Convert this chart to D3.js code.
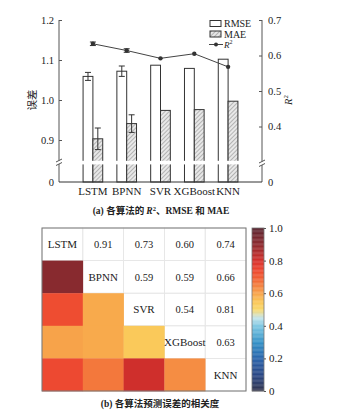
<!DOCTYPE html>
<html><head><meta charset="utf-8">
<script src="https://cdn.jsdelivr.net/npm/d3@7/dist/d3.min.js"></script>
<style>
html,body{margin:0;padding:0;background:#fff;}
text{font-family:"Liberation Serif","Noto Sans CJK SC",serif;fill:#222;}
.cjk{font-family:"Noto Sans CJK SC",sans-serif;}
</style></head>
<body>
<svg id="c" width="340" height="411"></svg>
<script>
// ---------- data ----------
const algorithms = ["LSTM", "BPNN", "SVR", "XGBoost", "KNN"];
const rmse = [1.059, 1.072, 1.087, 1.079, 1.102];
const rmseErr = [0.010, 0.013, 0, 0, 0];
const mae = [0.903, 0.941, 0.974, 0.976, 0.997];
const maeErr = [0.027, 0.022, 0, 0, 0];
const r2 = [0.633, 0.614, 0.592, 0.605, 0.568];
const r2Err = [0.005, 0.005, 0, 0, 0];
const leftTicks = [0, 0.9, 1.0, 1.1, 1.2];
const rightTicks = [0, 0.4, 0.5, 0.6, 0.7];
// correlation (upper triangle, row i < col j)
const corrPairs = [
  ["LSTM","BPNN",0.91],["LSTM","SVR",0.73],["LSTM","XGBoost",0.60],["LSTM","KNN",0.74],
  ["BPNN","SVR",0.59],["BPNN","XGBoost",0.59],["BPNN","KNN",0.66],
  ["SVR","XGBoost",0.54],["SVR","KNN",0.81],
  ["XGBoost","KNN",0.63]
];
const colorTicks = [0, 0.2, 0.4, 0.6, 0.8, 1.0];
const colorStops = [0,0.1,0.2,0.3,0.4,0.45,0.5,0.55,0.6,0.7,0.75,0.8,0.9,1.0];
const colorValues = ["#33344d","#2a4785","#2a63aa","#3592c7","#7dc7e2","#c4e4ea","#f8d86c","#fbc556","#f7a34a","#f05b33","#ec4430","#d6302c","#8d2a2f","#5c2631"];

const svg = d3.select("#c");
const FS = 10.5;

// ---------- top chart ----------
const xL = 59, xR = 262, yBase = 182;
const x0 = d3.scaleBand().domain(algorithms).range([76, 245]);
const x1 = d3.scaleBand().domain(["RMSE","MAE"]).range([0, x0.bandwidth()]).paddingOuter(0.72);
const yL = d3.scaleLinear().domain([0, 0.85, 1.2]).range([yBase, 160, 20]);
const yR = d3.scaleLinear().domain([0, 0.3, 0.7]).range([yBase, 162, 20]);

const defs = svg.append("defs");
const pat = defs.append("pattern").attr("id","hatch").attr("patternUnits","userSpaceOnUse")
  .attr("width",3).attr("height",3).attr("patternTransform","rotate(45)");
pat.append("rect").attr("width",3).attr("height",3).attr("fill","#e8e8e8");
pat.append("line").attr("x1",0).attr("y1",0).attr("x2",0).attr("y2",3).attr("stroke","#888").attr("stroke-width",1.1);

const g = svg.append("g");
// bars
algorithms.forEach((a,i)=>{
  const cx = x0(a);
  g.append("rect").attr("x",cx+x1("RMSE")).attr("y",yL(rmse[i]))
   .attr("width",x1.bandwidth()).attr("height",yBase-yL(rmse[i]))
   .attr("fill","#fff").attr("stroke","#333").attr("stroke-width",1);
  g.append("rect").attr("x",cx+x1("MAE")).attr("y",yL(mae[i]))
   .attr("width",x1.bandwidth()).attr("height",yBase-yL(mae[i]))
   .attr("fill","url(#hatch)").attr("stroke","#333").attr("stroke-width",1);
});
// break stripe
g.append("rect").attr("x",xL+1).attr("y",yL(0.85)+0.8).attr("width",xR-xL-2).attr("height",3.6).attr("fill","#fff");

// error bars
function errBar(x, yScale, v, e){
  if(!e) return;
  const y1 = yScale(v+e), y2 = yScale(v-e);
  g.append("line").attr("x1",x).attr("x2",x).attr("y1",y1).attr("y2",y2).attr("stroke","#333");
  [y1,y2].forEach(y=>g.append("line").attr("x1",x-3).attr("x2",x+3).attr("y1",y).attr("y2",y).attr("stroke","#333"));
}
algorithms.forEach((a,i)=>{
  const cx = x0(a);
  errBar(cx+x1("RMSE")+x1.bandwidth()/2, yL, rmse[i], rmseErr[i]);
  errBar(cx+x1("MAE")+x1.bandwidth()/2, yL, mae[i], maeErr[i]);
});
// R2 line
const cxR = a => x0(a)+x0.bandwidth()/2;
g.append("path").datum(r2).attr("fill","none").attr("stroke","#444").attr("stroke-width",1)
  .attr("d", d3.line().x((d,i)=>cxR(algorithms[i])).y(d=>yR(d)));
algorithms.forEach((a,i)=>errBar(cxR(a), yR, r2[i], r2Err[i]));
g.selectAll("circle.r2").data(r2).join("circle").attr("class","r2")
  .attr("cx",(d,i)=>cxR(algorithms[i])).attr("cy",d=>yR(d)).attr("r",2.2).attr("fill","#333");

// axes
const axL = svg.append("g").attr("transform",`translate(${xL},0)`)
  .call(d3.axisLeft(yL).tickValues(leftTicks).tickFormat(d=>d===0?"0":d3.format(".1f")(d)).tickSize(-3).tickPadding(5));
const axR = svg.append("g").attr("transform",`translate(${xR},0)`)
  .call(d3.axisRight(yR).tickValues(rightTicks).tickFormat(d=>d===0?"0":d3.format(".1f")(d)).tickSize(-3).tickPadding(6));
[axL,axR].forEach(ax=>{
  ax.select(".domain").remove();
  ax.selectAll("line").attr("stroke","#555");
  ax.selectAll("text").attr("font-size",FS).attr("font-family","Liberation Serif").attr("fill","#222");
  ax.selectAll(".tick").filter(d=>d===0).select("line").remove();
});
// axis lines with break
function vAxis(x, yTop, yb1, yb2){
  svg.append("line").attr("x1",x).attr("x2",x).attr("y1",yTop).attr("y2",yb1).attr("stroke","#555");
  svg.append("line").attr("x1",x).attr("x2",x).attr("y1",yb2).attr("y2",yBase).attr("stroke","#555");
  [yb1,yb2].forEach(y=>svg.append("line").attr("x1",x-3).attr("x2",x+3).attr("y1",y+1.5).attr("y2",y-1.5).attr("stroke","#555"));
}
vAxis(xL, 20, 160.5, 164);
vAxis(xR, 20, 161.5, 165);
svg.append("line").attr("x1",xL).attr("x2",xR).attr("y1",yBase).attr("y2",yBase).attr("stroke","#333");
// x labels
svg.append("g").selectAll("text").data(algorithms).join("text")
  .attr("x",d=>cxR(d)).attr("y",195).attr("text-anchor","middle").attr("font-size",FS+0.5).text(d=>d);
// axis titles
svg.append("text").attr("class","cjk").attr("transform","translate(36,100) rotate(-90)")
  .attr("text-anchor","middle").attr("font-size",FS).text("误差");
const rt = svg.append("text").attr("transform","translate(292,100) rotate(-90)").attr("text-anchor","middle").attr("font-size",FS);
rt.append("tspan").attr("font-style","italic").text("R");
rt.append("tspan").attr("font-size",7).attr("dy",-4).text("2");

// legend
const lg = svg.append("g");
const LF = 9;
const rows = [23.5, 34, 44.5];
lg.append("rect").attr("x",210).attr("y",rows[0]-3).attr("width",11).attr("height",6).attr("fill","#fff").attr("stroke","#333");
lg.append("rect").attr("x",210).attr("y",rows[1]-3).attr("width",11).attr("height",6).attr("fill","url(#hatch)").attr("stroke","#333");
lg.append("line").attr("x1",209).attr("x2",223).attr("y1",rows[2]).attr("y2",rows[2]).attr("stroke","#444");
lg.append("circle").attr("cx",216).attr("cy",rows[2]).attr("r",2).attr("fill","#333");
lg.append("text").attr("x",224).attr("y",rows[0]).attr("dy","0.35em").attr("font-size",LF+1).text("RMSE");
lg.append("text").attr("x",224).attr("y",rows[1]).attr("dy","0.35em").attr("font-size",LF+1).text("MAE");
const lr = lg.append("text").attr("x",224).attr("y",rows[2]).attr("dy","0.35em").attr("font-size",LF);
lr.append("tspan").attr("font-style","italic").text("R");
lr.append("tspan").attr("font-size",6).attr("dy",-3.5).text("2");

// caption a
const ca = svg.append("text").attr("x",161).attr("y",214).attr("text-anchor","middle").attr("font-size",9.5).attr("font-weight","bold");
ca.append("tspan").text("(a) ");
ca.append("tspan").attr("class","cjk").text("各算法的 ");
ca.append("tspan").attr("font-style","italic").text("R");
ca.append("tspan").attr("font-size",6.5).attr("dy",-3.5).text("2");
ca.append("tspan").attr("dy",3.5).attr("class","cjk").text("、");
ca.append("tspan").text("RMSE ");
ca.append("tspan").attr("class","cjk").text("和");
ca.append("tspan").text(" MAE");

// ---------- heatmap ----------
const hx = d3.scaleBand().domain(algorithms).range([42, 246]);
const hy = d3.scaleBand().domain(algorithms).range([228, 391]);
const color = d3.scaleLinear().domain(colorStops).range(colorValues).interpolate(d3.interpolateRgb);
const hg = svg.append("g");
hg.append("rect").attr("x",42).attr("y",228).attr("width",204).attr("height",163).attr("fill","#fff");
algorithms.forEach(r=>algorithms.forEach(c=>{
  hg.append("rect").attr("x",hx(c)).attr("y",hy(r)).attr("width",hx.bandwidth()).attr("height",hy.bandwidth())
    .attr("fill","none").attr("stroke","#e6e6e6").attr("stroke-width",0.8);
}));
hg.selectAll("rect.cell").data(corrPairs).join("rect").attr("class","cell")
  .attr("x",d=>hx(d[0])).attr("y",d=>hy(d[1])).attr("width",hx.bandwidth()+0.3).attr("height",hy.bandwidth()+0.3)
  .attr("fill",d=>color(d[2]));
hg.selectAll("text.val").data(corrPairs).join("text").attr("class","val")
  .attr("x",d=>hx(d[1])+hx.bandwidth()/2).attr("y",d=>hy(d[0])+hy.bandwidth()/2)
  .attr("dy","0.35em").attr("text-anchor","middle").attr("font-size",FS).text(d=>d3.format(".2f")(d[2]));
hg.selectAll("text.diag").data(algorithms).join("text").attr("class","diag")
  .attr("x",d=>hx(d)+hx.bandwidth()/2).attr("y",d=>hy(d)+hy.bandwidth()/2)
  .attr("dy","0.35em").attr("text-anchor","middle").attr("font-size",FS+0.5).text(d=>d);
hg.append("rect").attr("x",42).attr("y",228).attr("width",204).attr("height",163)
  .attr("fill","none").attr("stroke","#777").attr("stroke-width",1);

// colorbar
const cbY = d3.scaleLinear().domain([0,1]).range([391,228]);
const cb = svg.append("g");
const steps = d3.range(0,1,0.005);
cb.selectAll("rect").data(steps).join("rect").attr("x",252).attr("width",12)
  .attr("y",d=>cbY(d+0.005)).attr("height",cbY(0)-cbY(0.005)+0.3).attr("fill",d=>color(d+0.0025));
cb.append("rect").attr("x",252).attr("y",228).attr("width",12).attr("height",163).attr("fill","none").attr("stroke","#777").attr("stroke-width",0.8);
const cax = svg.append("g").attr("transform","translate(264,0)")
  .call(d3.axisRight(cbY).tickValues(colorTicks).tickFormat(d=>d===0?"0":d3.format(".1f")(d)).tickSize(2).tickPadding(3));
cax.select(".domain").remove();
cax.selectAll("line").attr("stroke","#555");
cax.selectAll("text").attr("font-size",FS+0.5).attr("font-family","Liberation Serif").attr("fill","#222");

// caption b
const cbt = svg.append("text").attr("x",160).attr("y",407).attr("text-anchor","middle").attr("font-size",9.5).attr("font-weight","bold");
cbt.append("tspan").text("(b) ");
cbt.append("tspan").attr("class","cjk").text("各算法预测误差的相关度");
</script>
</body></html>
